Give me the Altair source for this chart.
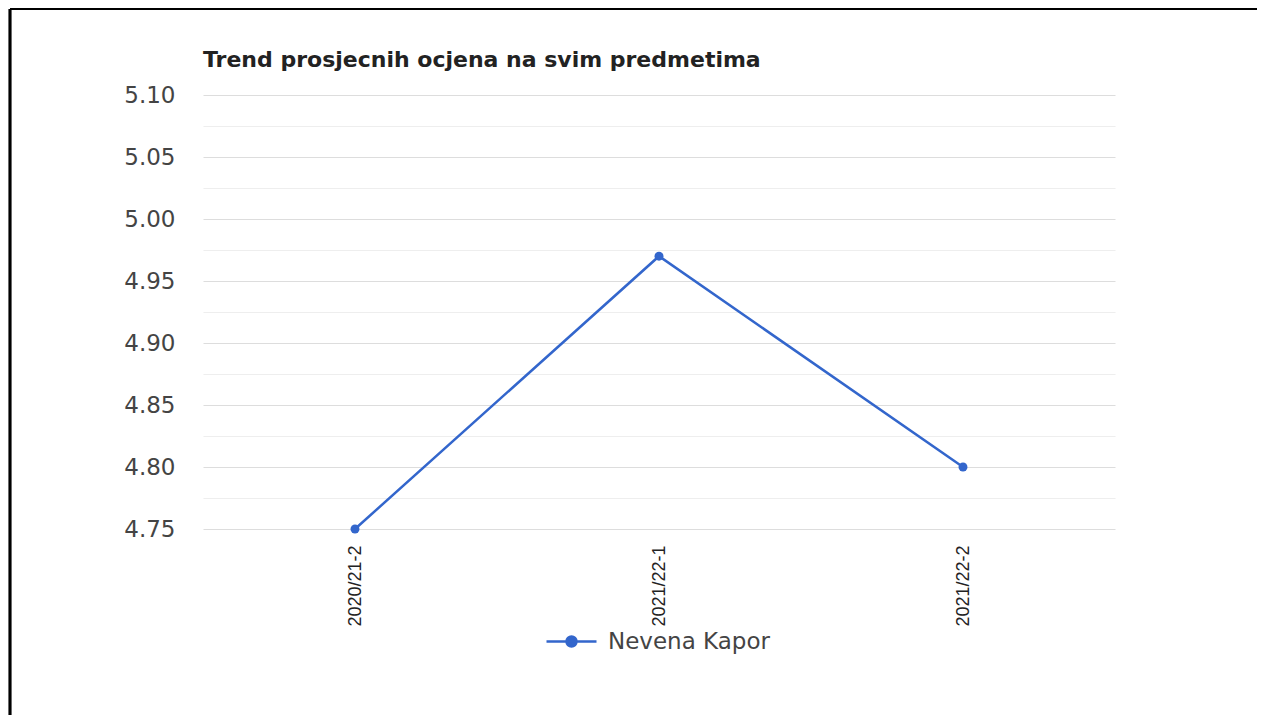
import altair as alt
import pandas as pd

terms = ["2020/21-2", "2021/22-1", "2021/22-2"]
averages = [4.75, 4.97, 4.80]
student = ["Nevena Kapor"] * 3
y_ticks = [4.75, 4.775, 4.80, 4.825, 4.85, 4.875, 4.90, 4.925, 4.95, 4.975, 5.00, 5.025, 5.05, 5.075, 5.10]
chart_title = "Trend prosjecnih ocjena na svim predmetima"

df = pd.DataFrame({"term": terms, "avg": averages, "student": student})

FONT = "Liberation Sans"
WIDE = "DejaVu Sans"
BLUE = "#3366CC"

legend_path = "M-1,0L1,0 M-0.2,0 A0.2,0.2 0 1,1 0.2,0 A0.2,0.2 0 1,1 -0.2,0 Z"

base = alt.Chart(df).encode(
    x=alt.X("term:N", sort=terms, title=None,
            scale=alt.Scale(padding=0.5),
            axis=alt.Axis(labelAngle=270, labelAlign="right", labelBaseline="middle",
                          labelPadding=16, labelFontSize=18, labelColor="#222222",
                          labelFont=FONT, domain=False, ticks=False, grid=False)),
    y=alt.Y("avg:Q", title=None,
            scale=alt.Scale(domain=[4.75, 5.10], nice=False, zero=False),
            axis=alt.Axis(values=y_ticks, format=".2f",
                          labelExpr="round(datum.value*1000) % 50 == 0 ? datum.label : ''",
                          labelFontSize=23, labelColor="#444444", labelFont=WIDE,
                          labelPadding=28, domain=False, ticks=False,
                          gridColor={"condition": {"test": "round(datum.value*1000) % 50 == 0", "value": "#DDDDDD"}, "value": "#EEEEEE"},
                          gridWidth=1.2)),
    color=alt.Color("student:N", scale=alt.Scale(range=[BLUE]), title=None,
                    legend=alt.Legend(orient="none", legendX=342, legendY=520,
                                      symbolType=legend_path, symbolSize=2500,
                                      symbolStrokeWidth=2.5, symbolFillColor=BLUE,
                                      symbolStrokeColor=BLUE, labelLimit=400,
                                      labelFontSize=23, labelColor="#444444",
                                      labelFont=WIDE, labelOffset=10)),
)

line = base.mark_line(strokeWidth=2.5, color=BLUE)
pts = base.mark_circle(size=80, opacity=1, color=BLUE)

title_df = pd.DataFrame({"t": [chart_title]})
title_mark = alt.Chart(title_df).mark_text(
    align="left", baseline="alphabetic", font=WIDE, fontSize=22, fontWeight="bold",
    color="#222222").encode(text="t:N", x=alt.value(0), y=alt.value(-28))

# page frame lines
frame_top = alt.Chart(df).mark_rule(color="black", strokeWidth=2).encode(
    x=alt.value(-193), x2=alt.value(1054), y=alt.value(-86))
frame_left = alt.Chart(df).mark_rule(color="black", strokeWidth=2.5).encode(
    x=alt.value(-193), y=alt.value(-86), y2=alt.value(660))

chart = alt.layer(frame_top, frame_left, title_mark, line, pts).properties(
    width=912, height=434,
    autosize=alt.AutoSizeParams(type="none"),
    padding={"left": 195, "top": 87, "right": 142, "bottom": 186},
).configure(background="white").configure_view(stroke=None)

chart.save("out.html", embed_options={"renderer": "svg", "actions": False})
